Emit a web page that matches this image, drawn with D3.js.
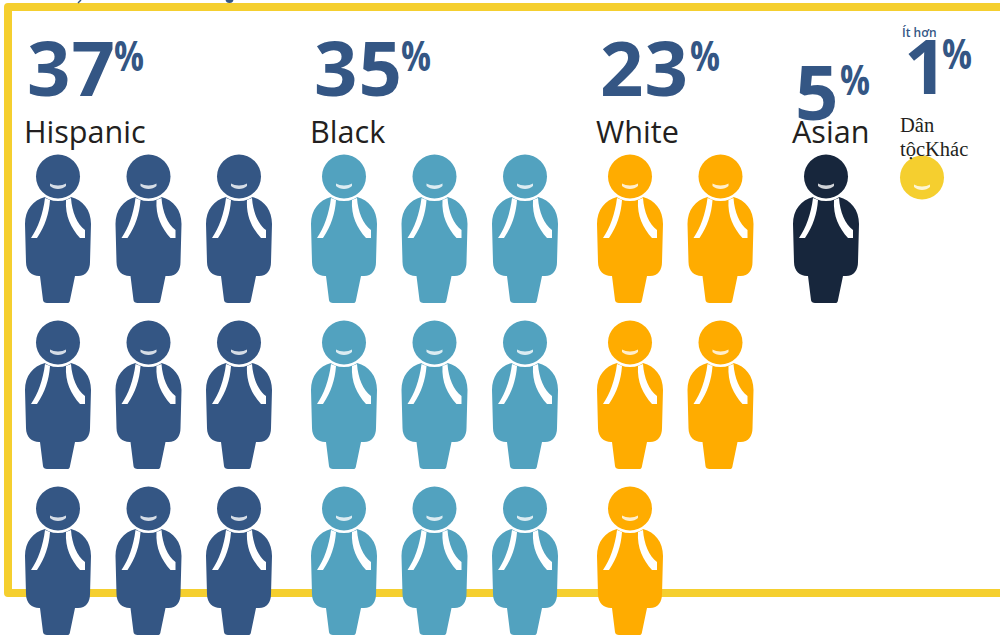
<!DOCTYPE html>
<html>
<head>
<meta charset="utf-8">
<script src="https://cdn.jsdelivr.net/npm/d3@7"></script>
<style>
  html, body { margin: 0; padding: 0; background: #fff; overflow: hidden; }
  svg { display: block; }
</style>
</head>
<body>
<svg></svg>
<script>
const groups = ['Hispanic', 'Black', 'White', 'Asian', 'Other'];
const labels = ['Hispanic', 'Black', 'White', 'Asian', 'Dân tộcKhác'];
const percents = [37, 35, 23, 5, 1];
const iconCounts = [9, 9, 5, 1, 0];
const iconsPerRow = [3, 3, 2, 1, 1];
const colors = ['#345684', '#52a2bf', '#ffac00', '#17263c', '#f5cf2f'];
const prefixText = 'Ít hơn';

const width = 1000;
const height = 637;
const BLUE = '#345684';
const YELLOW = '#f5cf2f';

const svg = d3.select('svg')
  .attr('width', width)
  .attr('height', height)
;

// left edge of each group, the picture does not space them evenly
const groupX = d3.scaleOrdinal().domain(groups).range([25, 311, 597, 793, 900]);
const colX = d3.scalePoint().domain([0, 1, 2]).range([0, 181]);
const rowY = d3.scalePoint().domain([0, 1, 2]).range([154, 486]);

const bodyPath = 'M20,43 C8,46 0,56 0,70 L1,108 C1,117 7,122 14,122 L15,122 L18,146 C18,148 20,149 22,149 L43,149 C44,149 45,147 45,146 L50,122 L53,122 C61,122 65,116 65,108 L66,70 C66,56 58,46 46,43 Z';
const leftStrap = 'M20,44 L25,46 C24,60 20,72 12,84 L6,84 C13,74 18,60 20,44 Z';
const rightStrap = 'M41,46 L46,44 C47,58 52,70 60,76 L60,84 L55,84 C46,74 40,62 41,46 Z';
const smile = 'M25,29.5 C29,32 37,32 41,29.5 L41,32 C37,36 29,36 25,32 Z';

// frame runs off the right of the page
svg.append('path')
  .attr('d', d3.line()([[width + 10, 7], [8, 7], [8, 593], [width + 10, 593]]))
  .attr('fill', 'none')
  .attr('stroke', YELLOW)
  .attr('stroke-width', 8)
  .attr('stroke-linejoin', 'round')
;

// bits of a cut off title showing above the frame
svg.append('circle').attr('cx', 229.5).attr('cy', -1).attr('r', 4).attr('fill', BLUE);
svg.append('path').attr('d', 'M78,3 L81,0').attr('stroke', BLUE).attr('stroke-width', 1.5);

function drawHead(g, color) {
  g.append('circle')
    .attr('cx', 33)
    .attr('cy', 22.5)
    .attr('r', 22)
    .attr('fill', color)
  ;
  g.append('path')
    .attr('d', smile)
    .attr('fill', '#fff')
    .attr('opacity', 0.8)
  ;
}

function drawIcon(g, color) {
  g.append('path').attr('d', bodyPath).attr('fill', color);
  g.append('path').attr('d', leftStrap).attr('fill', '#fff');
  g.append('path').attr('d', rightStrap).attr('fill', '#fff');
  g.append('circle')
    .attr('cx', 33)
    .attr('cy', 22.5)
    .attr('r', 24.5)
    .attr('fill', '#fff')
  ;
  drawHead(g, color);
}

groups.forEach((name, i) => {
  const icons = d3.range(iconCounts[i]).map(n => ({
    col: n % iconsPerRow[i],
    row: Math.floor(n / iconsPerRow[i])
  }));

  svg.append('g')
    .attr('class', 'icons')
    .selectAll('g')
    .data(icons)
    .enter().append('g')
    .attr('transform', d => `translate(${groupX(name) + colX(d.col)},${rowY(d.row)})`)
    .each(function () {
      drawIcon(d3.select(this), colors[i]);
    })
  ;
});

// the last group only shows a head, cut flat on the right
svg.append('clipPath')
  .attr('id', 'other-clip')
  .append('rect')
  .attr('x', 889)
  .attr('y', 150)
  .attr('width', 56)
  .attr('height', 55)
;
svg.append('g')
  .attr('clip-path', 'url(#other-clip)')
  .append('g')
  .attr('transform', `translate(${groupX('Other') - 11},155)`)
  .call(drawHead, colors[4])
;

const numberX = d3.scaleOrdinal().domain(groups).range([27, 314, 600, 795, 904]);
const numberY = d3.scaleOrdinal().domain(groups).range([96, 96, 96, 120, 94]);
const percentX = d3.scaleOrdinal().domain(groups).range([114, 401, 690, 840, 942]);
const numberFont = '"Open Sans", sans-serif';

groups.forEach((name, i) => {
  svg.append('text')
    .attr('x', numberX(name))
    .attr('y', numberY(name))
    .attr('font-family', numberFont)
    .attr('font-weight', 700)
    .attr('font-size', 76)
    .attr('fill', BLUE)
    .attr('letter-spacing', 1)
    .text(percents[i])
  ;
  svg.append('text')
    .attr('x', percentX(name))
    .attr('y', numberY(name) - 25)
    .attr('font-family', numberFont)
    .attr('font-weight', 700)
    .attr('font-size', 42)
    .attr('fill', BLUE)
    .attr('textLength', 30)
    .attr('lengthAdjust', 'spacingAndGlyphs')
    .text('%')
  ;
});

svg.selectAll('.label')
  .data(groups.slice(0, 4))
  .enter().append('text')
  .attr('class', 'label')
  .attr('x', d => groupX(d) - 1)
  .attr('y', 143)
  .attr('font-family', '"Open Sans", sans-serif')
  .attr('font-size', 30.6)
  .attr('fill', '#231f20')
  .text((d, i) => labels[i])
;

// wraps after the first word in the picture
const otherLabel = svg.append('text')
  .attr('font-family', '"Liberation Serif", serif')
  .attr('font-size', 20.5)
  .attr('fill', '#231f20')
;
labels[4].match(/^(\S+ )(.*)$/).slice(1).forEach((part, i) => {
  otherLabel.append('tspan')
    .attr('x', 900)
    .attr('y', 132 + i * 24)
    .text(part)
  ;
});

svg.append('text')
  .attr('x', 902)
  .attr('y', 37)
  .attr('font-family', '"Open Sans", sans-serif')
  .attr('font-weight', 600)
  .attr('font-size', 12)
  .attr('fill', BLUE)
  .text(prefixText)
;
</script>
</body>
</html>
